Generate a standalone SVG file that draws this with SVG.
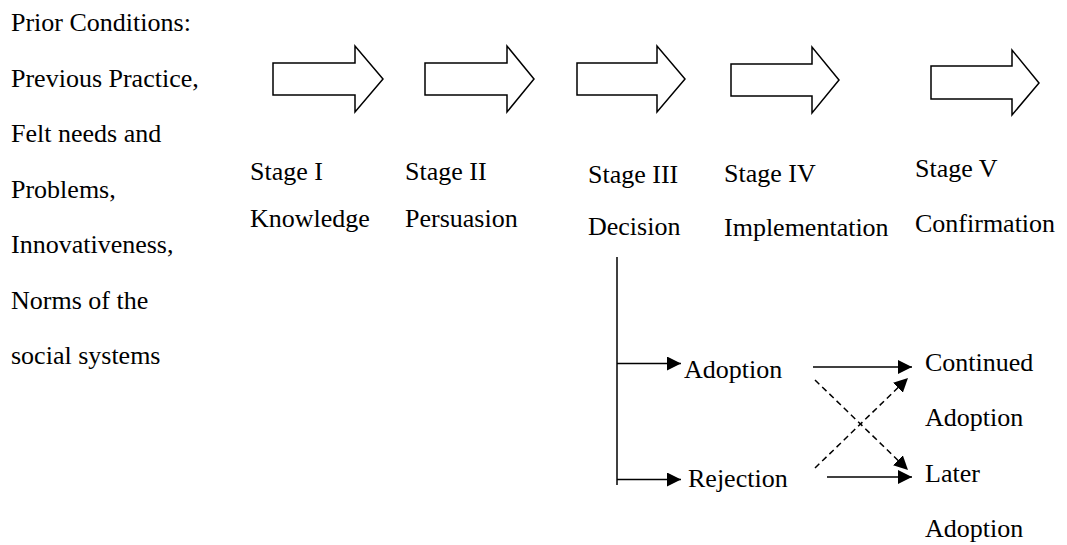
<svg xmlns="http://www.w3.org/2000/svg" width="1067" height="545" viewBox="0 0 1067 545">
<style>
text{font-family:'Liberation Serif',Tinos,'Times New Roman',Times,'DejaVu Serif',serif;font-size:26px;fill:#000}
.stage{fill:#fff;stroke:#000;stroke-width:1.5;stroke-linejoin:miter}
.ln{stroke:#000;stroke-width:1.5;fill:none}
.ds{stroke:#000;stroke-width:1.5;fill:none;stroke-dasharray:6,4}
</style>
<defs>
<marker id="ah" markerUnits="userSpaceOnUse" markerWidth="14" markerHeight="14" refX="14" refY="7" orient="auto">
<path d="M0,0 L14,7 L0,14 z" fill="#000"/>
</marker>
</defs>
<g id="prior" font-family="Liberation Serif, Times New Roman, serif">
<text x="11" y="31">Prior Conditions:</text>
<text x="11" y="86.5">Previous Practice,</text>
<text x="11" y="142">Felt needs and</text>
<text x="11" y="197.5">Problems,</text>
<text x="11" y="253">Innovativeness,</text>
<text x="11" y="308.5">Norms of the</text>
<text x="11" y="364">social systems</text>
</g>
<g id="stage1">
<polygon class="stage" points="273,63 355,63 355,46 383,79 355,112 355,95 273,95"/>
<text x="250" y="180">Stage I</text>
<text x="250" y="227">Knowledge</text>
</g>
<g id="stage2">
<polygon class="stage" points="425,63 507,63 507,46 534,79 507,112 507,95 425,95"/>
<text x="405" y="180">Stage II</text>
<text x="405" y="227">Persuasion</text>
</g>
<g id="stage3">
<polygon class="stage" points="577,63 657,63 657,46 685,79 657,112 657,95 577,95"/>
<text x="588" y="183">Stage III</text>
<text x="588" y="235">Decision</text>
</g>
<g id="stage4">
<polygon class="stage" points="731,64 812,64 812,47 839,80 812,113 812,96 731,96"/>
<text x="724" y="182">Stage IV</text>
<text x="724" y="236">Implementation</text>
</g>
<g id="stage5">
<polygon class="stage" points="931,66 1012,66 1012,50 1039,83 1012,115 1012,99 931,99"/>
<text x="915" y="177">Stage V</text>
<text x="915" y="232">Confirmation</text>
</g>
<g id="adoption"><text x="684" y="378">Adoption</text></g>
<g id="rejection"><text x="688" y="487">Rejection</text></g>
<g id="continued">
<text x="925" y="371">Continued</text>
<text x="925" y="426">Adoption</text>
</g>
<g id="later">
<text x="925" y="482">Later</text>
<text x="925" y="537">Adoption</text>
</g>
<g id="connectors">
<line class="ln" x1="617" y1="257" x2="617" y2="485"/>
<line class="ln" x1="617" y1="363.5" x2="681" y2="363.5" marker-end="url(#ah)"/>
<line class="ln" x1="617" y1="479.5" x2="681" y2="479.5" marker-end="url(#ah)"/>
<line class="ln" x1="813" y1="367" x2="912" y2="367" marker-end="url(#ah)"/>
<line class="ln" x1="827" y1="477" x2="912" y2="477" marker-end="url(#ah)"/>
<line class="ds" x1="815" y1="380" x2="908" y2="470" marker-end="url(#ah)"/>
<line class="ds" x1="815" y1="468" x2="908" y2="378" marker-end="url(#ah)"/>
</g>
</svg>
